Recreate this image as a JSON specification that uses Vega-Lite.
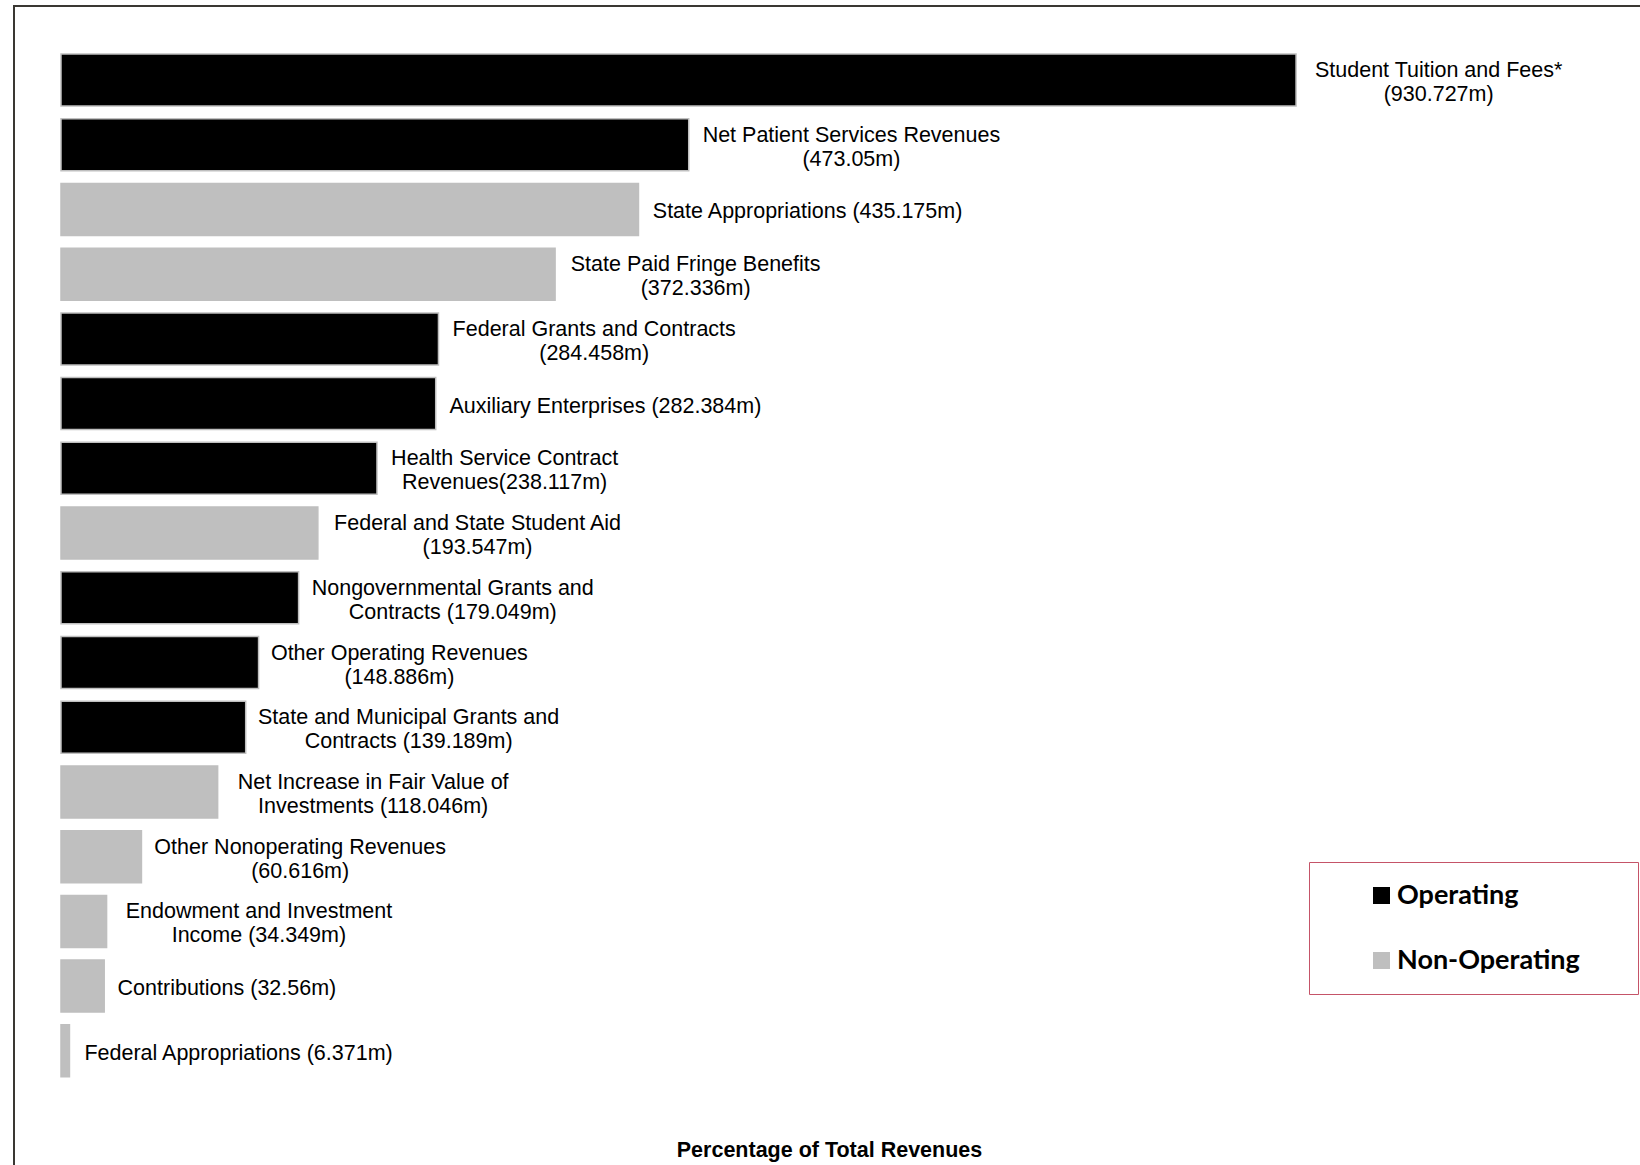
{
  "$schema": "https://vega.github.io/schema/vega-lite/v6.json",
  "autosize": "none",
  "width": 1646,
  "height": 1165,
  "padding": {"left": 14, "top": 6, "right": -20, "bottom": -6},
  "background": "white",
  "config": {
    "view": {"stroke": "#3a3833", "strokeWidth": 2},
    "font": "Liberation Sans"
  },
  "data": {
    "values": [
      {"cat": "Student Tuition and Fees*", "value": 930.727, "type": "Operating", "label": ["Student Tuition and Fees*", "(930.727m)"]},
      {"cat": "Net Patient Services Revenues", "value": 473.05, "type": "Operating", "label": ["Net Patient Services Revenues", "(473.05m)"]},
      {"cat": "State Appropriations", "value": 435.175, "type": "Non-Operating", "label": ["State Appropriations (435.175m)"]},
      {"cat": "State Paid Fringe Benefits", "value": 372.336, "type": "Non-Operating", "label": ["State Paid Fringe Benefits", "(372.336m)"]},
      {"cat": "Federal Grants and Contracts", "value": 284.458, "type": "Operating", "label": ["Federal Grants and Contracts", "(284.458m)"]},
      {"cat": "Auxiliary Enterprises", "value": 282.384, "type": "Operating", "label": ["Auxiliary Enterprises (282.384m)"]},
      {"cat": "Health Service Contract Revenues", "value": 238.117, "type": "Operating", "label": ["Health Service Contract", "Revenues(238.117m)"]},
      {"cat": "Federal and State Student Aid", "value": 193.547, "type": "Non-Operating", "label": ["Federal and State Student Aid", "(193.547m)"]},
      {"cat": "Nongovernmental Grants and Contracts", "value": 179.049, "type": "Operating", "label": ["Nongovernmental Grants and", "Contracts (179.049m)"]},
      {"cat": "Other Operating Revenues", "value": 148.886, "type": "Operating", "label": ["Other Operating Revenues", "(148.886m)"]},
      {"cat": "State and Municipal Grants and Contracts", "value": 139.189, "type": "Operating", "label": ["State and Municipal Grants and", "Contracts (139.189m)"]},
      {"cat": "Net Increase in Fair Value of Investments", "value": 118.046, "type": "Non-Operating", "label": ["Net Increase in Fair Value of", "Investments  (118.046m)"]},
      {"cat": "Other Nonoperating Revenues", "value": 60.616, "type": "Non-Operating", "label": ["Other Nonoperating Revenues", "(60.616m)"]},
      {"cat": "Endowment and Investment Income", "value": 34.349, "type": "Non-Operating", "label": ["Endowment and Investment", "Income (34.349m)"]},
      {"cat": "Contributions", "value": 32.56, "type": "Non-Operating", "label": ["Contributions (32.56m)"]},
      {"cat": "Federal Appropriations", "value": 6.371, "type": "Non-Operating", "label": ["Federal Appropriations (6.371m)"]}
    ]
  },
  "encoding": {
    "y": {
      "field": "cat",
      "type": "nominal",
      "sort": null,
      "axis": null,
      "scale": {"paddingInner": 0, "paddingOuter": 1, "align": 0.3217}
    }
  },
  "layer": [
    {
      "mark": {"type": "bar", "stroke": "#bfbfbf", "strokeWidth": 1.5, "height": {"band": 0.8035}},
      "encoding": {
        "x": {
          "field": "value",
          "type": "quantitative",
          "scale": {"domain": [-35.42, 1205.0], "nice": false, "zero": false},
          "axis": {
            "orient": "bottom",
            "domain": false,
            "ticks": false,
            "labels": false,
            "grid": false,
            "title": "Percentage of Total Revenues",
            "titleFont": "Liberation Sans Narrow, Liberation Sans",
            "titleFontSize": 21.5,
            "titleFontWeight": "bold",
            "titleColor": "#000000",
            "titleX": 815,
            "titleY": -15,
            "titleAlign": "center",
            "titleBaseline": "alphabetic"
          }
        },
        "x2": {"datum": 0},
        "color": {
          "field": "type",
          "type": "nominal",
          "scale": {"domain": ["Operating", "Non-Operating"], "range": ["#000000", "#bfbfbf"]},
          "legend": {
            "title": "\u00a0",
            "titleOrient": "right",
            "titlePadding": 38,
            "orient": "none",
            "legendX": 1295,
            "legendY": 856,
            "direction": "vertical",
            "padding": 20,
            "strokeColor": "#c55468",
            "fillColor": "white",
            "symbolType": "square",
            "symbolSize": 289,
            "symbolStrokeWidth": 0,
            "symbolOpacity": 1,
            "symbolOffset": 39,
            "labelOffset": 2,
            "labelFont": "Lato",
            "labelFontSize": 27,
            "labelFontWeight": "bold",
            "labelColor": "#000000",
            "labelLimit": 400,
            "rowPadding": 37,
            "encode": {"legend": {"update": {"strokeWidth": {"value": 2}}}}
          }
        }
      }
    },
    {
      "mark": {
        "type": "text",
        "font": "Liberation Sans",
        "fontSize": 21.5,
        "lineHeight": 24,
        "align": "center",
        "baseline": "middle",
        "color": "#000000",
        "dy": {"expr": "3 - 12*(length(datum.label)-1)"},
        "dx": {"expr": "16 + 10.75*max(0.556*length(datum.label[0]) - 0.334*length(replace(datum.label[0],regexp('[^ijl]','g'),'')) - 0.278*length(replace(datum.label[0],regexp('[^ tf.()]','g'),'')) - 0.223*length(replace(datum.label[0],regexp('[^r-]','g'),'')) - 0.056*length(replace(datum.label[0],regexp('[^sckvxyz]','g'),'')) + 0.09*length(replace(datum.label[0],regexp('[^A-Z]','g'),'')) + 0.22*length(replace(datum.label[0],regexp('[^mw]','g'),'')), 0.556*length(peek(datum.label)) - 0.334*length(replace(peek(datum.label),regexp('[^ijl]','g'),'')) - 0.278*length(replace(peek(datum.label),regexp('[^ tf.()]','g'),'')) - 0.223*length(replace(peek(datum.label),regexp('[^r-]','g'),'')) - 0.056*length(replace(peek(datum.label),regexp('[^sckvxyz]','g'),'')) + 0.09*length(replace(peek(datum.label),regexp('[^A-Z]','g'),'')) + 0.22*length(replace(peek(datum.label),regexp('[^mw]','g'),'')))"}
      },
      "encoding": {
        "x": {"field": "value", "type": "quantitative"},
        "text": {"field": "label"}
      }
    }
  ]
}
